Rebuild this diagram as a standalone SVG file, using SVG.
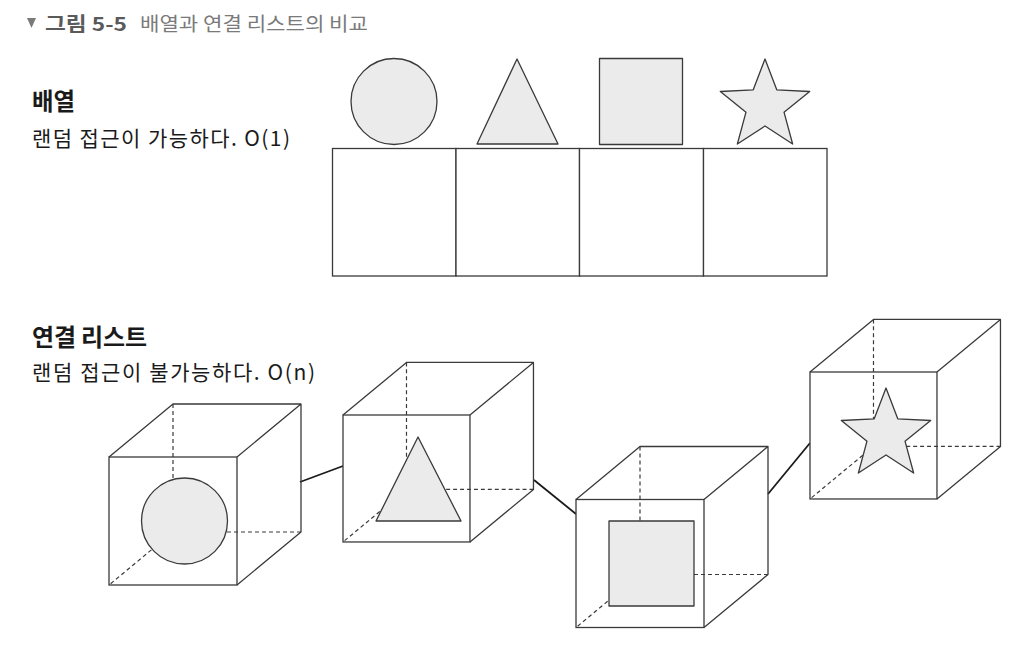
<svg xmlns="http://www.w3.org/2000/svg" xmlns:xlink="http://www.w3.org/1999/xlink" width="1034" height="651" viewBox="0 0 1034 651">
<style>
.ln{fill:none;stroke:#3a3a3a;stroke-width:1.3;stroke-linejoin:round}
.dash{fill:none;stroke:#3a3a3a;stroke-width:1.2;stroke-dasharray:4 3}
.sh{fill:#ebebeb;stroke:#3a3a3a;stroke-width:1.3;stroke-linejoin:round}
.box{fill:#fff;stroke:#3a3a3a;stroke-width:1.3}
.con{stroke:#1a1a1a;stroke-width:1.8}
.title{font-family:"Noto Sans CJK KR","Noto Sans",sans-serif;font-size:19px;fill:#7a7a7a}
.tb{font-weight:bold;fill:#5a5a5a}
.head{font-family:"Noto Sans CJK KR",sans-serif;font-size:24px;font-weight:bold;fill:#1a1a1a}
.sub{font-family:"Noto Sans CJK KR",sans-serif;font-size:21px;fill:#1a1a1a}
</style>
<defs>
<g id="cube">
<rect x="0" y="0" width="128" height="128" class="box"/>
<path class="ln" d="M0,0 L64,-53 L192,-53 L128,0 M192,-53 L192,75 L128,128"/>
<path class="dash" d="M64,-53 L64,75 L192,75 M64,75 L0,128"/>
</g>
<polygon id="star" class="sh" points="0,-47 11.76,-16.18 44.7,-14.52 19.02,6.18 27.63,38.02 0,20 -27.63,38.02 -19.02,6.18 -44.7,-14.52 -11.76,-16.18"/>
</defs>

<g id="title">
<polygon points="27,18 36,18 31.5,28" fill="#7a7a7a"/>
<text class="title tb" x="45" y="31" textLength="82" lengthAdjust="spacingAndGlyphs">그림 5-5</text>
<text class="title" x="140" y="31" textLength="228" lengthAdjust="spacingAndGlyphs">배열과 연결 리스트의 비교</text>
</g>

<g id="array-label">
<text class="head" x="32" y="110" textLength="43" lengthAdjust="spacingAndGlyphs">배열</text>
<text class="sub" x="32" y="146" textLength="258" lengthAdjust="spacing">랜덤 접근이 가능하다. O(1)</text>
</g>

<g id="list-label">
<text class="head" x="32" y="346" textLength="115" lengthAdjust="spacing">연결 리스트</text>
<text class="sub" x="32" y="380" textLength="283" lengthAdjust="spacing">랜덤 접근이 불가능하다. O(n)</text>
</g>

<g id="array">
<rect class="box" x="332.5" y="148.5" width="123.5" height="127.5"/>
<rect class="box" x="456" y="148.5" width="123.5" height="127.5"/>
<rect class="box" x="579.5" y="148.5" width="124" height="127.5"/>
<rect class="box" x="703.5" y="148.5" width="123.5" height="127.5"/>
<circle class="sh" cx="394" cy="101.5" r="43"/>
<polygon class="sh" points="517,59 477,144 558,144"/>
<rect class="sh" x="599.5" y="58.5" width="83" height="86"/>
<use xlink:href="#star" href="#star" transform="translate(765,106)"/>
</g>

<g id="connectors">
<line class="con" x1="300" y1="482" x2="343" y2="466"/>
<line class="con" x1="534" y1="480" x2="576" y2="514"/>
<line class="con" x1="768" y1="494" x2="810" y2="443"/>
</g>

<g id="node1">
<use xlink:href="#cube" href="#cube" transform="translate(109,457)"/>
<circle class="sh" cx="184.5" cy="521" r="43"/>
</g>
<g id="node2">
<use xlink:href="#cube" href="#cube" transform="translate(343,415) scale(0.992)"/>
<polygon class="sh" points="418,437 376,521 461,521"/>
</g>
<g id="node3">
<use xlink:href="#cube" href="#cube" transform="translate(576,499.5)"/>
<rect class="sh" x="609" y="521" width="85" height="85"/>
</g>
<g id="node4">
<use xlink:href="#cube" href="#cube" transform="translate(810,372) scale(0.992)"/>
<use xlink:href="#star" href="#star" transform="translate(886,435)"/>
</g>
</svg>
